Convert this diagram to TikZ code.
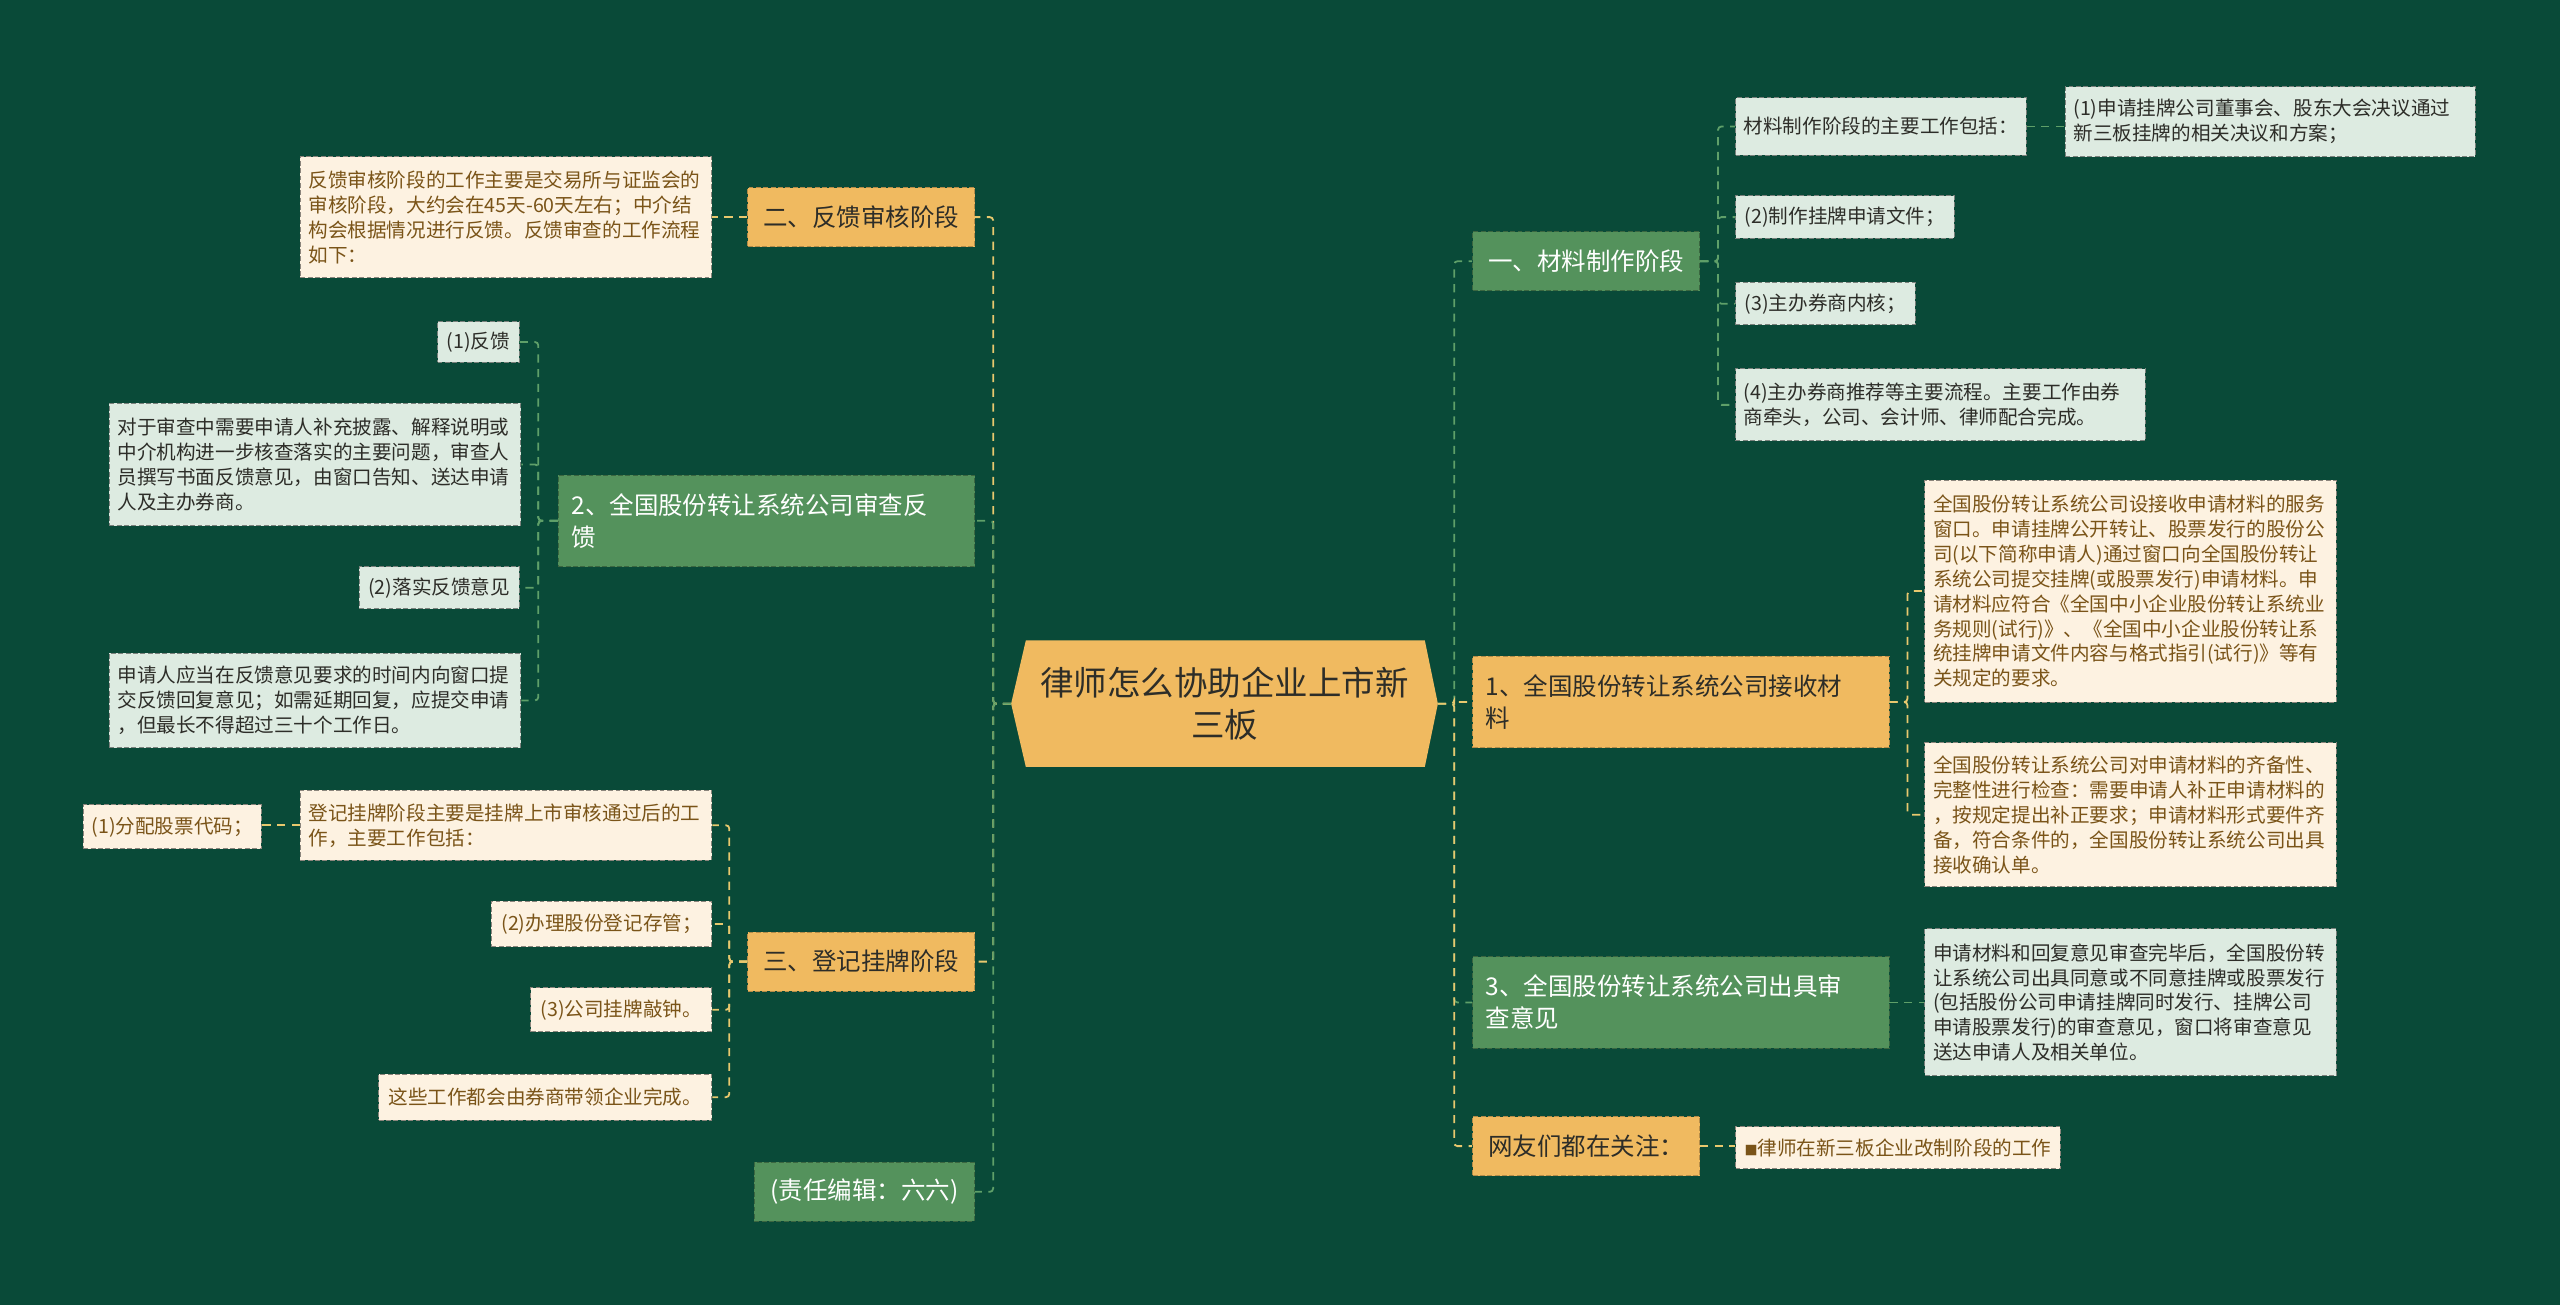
\documentclass[tikz,border=0pt]{standalone}
\usepackage{fontspec}
\setmainfont{Noto Sans CJK SC}
\usetikzlibrary{backgrounds}
\definecolor{bgc}{RGB}{9,74,56}
\definecolor{orf}{RGB}{240,186,96}
\definecolor{grf}{RGB}{84,146,92}
\definecolor{crf}{RGB}{253,242,225}
\definecolor{lgf}{RGB}{221,235,225}
\definecolor{brt}{RGB}{122,84,24}
\definecolor{dkt}{RGB}{45,45,40}
\definecolor{ylc}{RGB}{232,200,110}
\definecolor{gnc}{RGB}{95,160,105}
\tikzset{
  box/.style={rectangle, inner xsep=5pt, inner ysep=3pt, align=left, dash pattern=on 3pt off 1.5pt, line width=0.6pt},
  sz/.style 2 args={minimum width=#1pt, minimum height=#2pt},
  tw/.style={text width=#1pt},
  mainor/.style={box, fill=orf, draw=orf!75!black, text=dkt, font=\fontsize{15}{19.5}\selectfont},
  maingr/.style={box, fill=grf, draw=grf!70!black, text=white, font=\fontsize{15}{19.5}\selectfont},
  leafcr/.style={box, fill=crf, draw=crf!55!black, text=brt, font=\fontsize{12}{15.3}\selectfont},
  leaflg/.style={box, fill=lgf, draw=lgf!55!black, text=dkt, font=\fontsize{12}{15.3}\selectfont},
  yl/.style={draw=ylc, line width=1.1pt, dash pattern=on 5pt off 4pt, rounded corners=2pt},
  gl/.style={draw=gnc, line width=1.1pt, dash pattern=on 5pt off 4pt, rounded corners=2pt},
}
\begin{document}
\begin{tikzpicture}[x=1pt,y=-1pt]
\useasboundingbox (0,0) rectangle (1568,799);
% central
\node[text=dkt, font=\fontsize{20.5}{26}\selectfont, align=center, minimum width=261pt, minimum height=77pt, inner sep=0pt] (root) at (750,431) {律师怎么协助企业上市新\\三板};
% left main
\node[mainor, sz={139}{36}] (b2) at (527.5,133) {二、反馈审核阶段};
\node[maingr, sz={255}{56}, tw={239}] (bB) at (469.5,319) {2、全国股份转让系统公司审查反\\馈};
\node[mainor, sz={139}{36}] (b3) at (527.5,589) {三、登记挂牌阶段};
\node[maingr, sz={135}{36}] (bE) at (529.5,730) {(责任编辑：六六)};
% left leaves
\node[leafcr, sz={252}{74}, tw={242}] (b2c) at (310,133) {反馈审核阶段的工作主要是交易所与证监会的\\审核阶段，大约会在45天-60天左右；中介结\\构会根据情况进行反馈。反馈审查的工作流程\\如下：};
\node[leaflg, sz={50}{25}] (c1) at (293,209.5) {(1)反馈};
\node[leaflg, sz={252}{75}, tw={242}] (c2) at (193,284.5) {对于审查中需要申请人补充披露、解释说明或\\中介机构进一步核查落实的主要问题，审查人\\员撰写书面反馈意见，由窗口告知、送达申请\\人及主办券商。};
\node[leaflg, sz={98}{26}] (c3) at (269,360) {(2)落实反馈意见};
\node[leaflg, sz={252}{58}, tw={242}] (c4) at (193,429) {申请人应当在反馈意见要求的时间内向窗口提\\交反馈回复意见；如需延期回复，应提交申请\\，但最长不得超过三十个工作日。};
\node[leafcr, sz={252}{43}, tw={242}] (d1) at (310,505.5) {登记挂牌阶段主要是挂牌上市审核通过后的工\\作，主要工作包括：};
\node[leafcr, sz={109}{27}] (d1a) at (105.5,506.5) {(1)分配股票代码；};
\node[leafcr, sz={135}{28}] (d2) at (368.5,566) {(2)办理股份登记存管；};
\node[leafcr, sz={111}{27}] (d3) at (380.5,618.5) {(3)公司挂牌敲钟。};
\node[leafcr, sz={204}{28}] (d4) at (334,672) {这些工作都会由券商带领企业完成。};
% right main
\node[maingr, sz={139}{36}] (r1) at (971.5,160) {一、材料制作阶段};
\node[mainor, sz={255}{56}, tw={239}] (r2) at (1029.5,430) {1、全国股份转让系统公司接收材\\料};
\node[maingr, sz={255}{56}, tw={239}] (r3) at (1029.5,614) {3、全国股份转让系统公司出具审\\查意见};
\node[mainor, sz={139}{36}] (r4) at (971.5,702) {网友们都在关注：};
% right leaves
\node[leaflg, sz={178}{35}] (e1) at (1152,77.5) {材料制作阶段的主要工作包括：};
\node[leaflg, sz={251}{43}, tw={241}] (e1a) at (1390.5,74.5) {(1)申请挂牌公司董事会、股东大会决议通过\\新三板挂牌的相关决议和方案；};
\node[leaflg, sz={134}{26}] (e2) at (1130,133) {(2)制作挂牌申请文件；};
\node[leaflg, sz={110}{26}] (e3) at (1118,186) {(3)主办券商内核；};
\node[leaflg, sz={251}{44}, tw={241}] (e4) at (1188.5,248) {(4)主办券商推荐等主要流程。主要工作由券\\商牵头，公司、会计师、律师配合完成。};
\node[leafcr, sz={252}{136}, tw={242}] (f1) at (1305,362) {全国股份转让系统公司设接收申请材料的服务\\窗口。申请挂牌公开转让、股票发行的股份公\\司(以下简称申请人)通过窗口向全国股份转让\\系统公司提交挂牌(或股票发行)申请材料。申\\请材料应符合《全国中小企业股份转让系统业\\务规则(试行)》、《全国中小企业股份转让系\\统挂牌申请文件内容与格式指引(试行)》等有\\关规定的要求。};
\node[leafcr, sz={252}{88}, tw={242}] (f2) at (1305,499) {全国股份转让系统公司对申请材料的齐备性、\\完整性进行检查：需要申请人补正申请材料的\\，按规定提出补正要求；申请材料形式要件齐\\备，符合条件的，全国股份转让系统公司出具\\接收确认单。};
\node[leaflg, sz={252}{90}, tw={242}] (g1) at (1305,614) {申请材料和回复意见审查完毕后，全国股份转\\让系统公司出具同意或不同意挂牌或股票发行\\(包括股份公司申请挂牌同时发行、挂牌公司\\申请股票发行)的审查意见，窗口将审查意见\\送达申请人及相关单位。};
\node[leafcr, sz={199}{26}] (h1) at (1162.5,703) {{\fontsize{8}{8}\selectfont ■}律师在新三板企业改制阶段的工作};
% connectors: root to main
\draw[yl] (root.west) -- ++(-11,0) |- (b2.east);
\draw[gl] (root.west) -- ++(-11,0) |- (bB.east);
\draw[yl] (root.west) -- ++(-11,0) |- (b3.east);
\draw[gl] (root.west) -- ++(-11,0) |- (bE.east);
\draw[gl] (root.east) -- ++(10,0) |- (r1.west);
\draw[yl] (root.east) -- ++(10,0) |- (r2.west);
\draw[gl] (root.east) -- ++(10,0) |- (r3.west);
\draw[yl] (root.east) -- ++(10,0) |- (r4.west);
% sub connectors
\draw[yl] (b2.west) -- (b2.west -| b2c.east);
\draw[gl] (bB.west) -- ++(-12,0) |- (c1.east);
\draw[gl] (bB.west) -- ++(-12,0) |- (c2.east);
\draw[gl] (bB.west) -- ++(-12,0) |- (c3.east);
\draw[gl] (bB.west) -- ++(-12,0) |- (c4.east);
\draw[yl] (b3.west) -- ++(-11,0) |- (d1.east);
\draw[yl] (b3.west) -- ++(-11,0) |- (d2.east);
\draw[yl] (b3.west) -- ++(-11,0) |- (d3.east);
\draw[yl] (b3.west) -- ++(-11,0) |- (d4.east);
\draw[yl] (d1.west) -- (d1.west -| d1a.east);
\draw[gl] (r1.east) -- ++(11,0) |- (e1.west);
\draw[gl] (r1.east) -- ++(11,0) |- (e2.west);
\draw[gl] (r1.east) -- ++(11,0) |- (e3.west);
\draw[gl] (r1.east) -- ++(11,0) |- (e4.west);
\draw[gl] (e1.east) -- (e1.east -| e1a.west);
\draw[yl] (r2.east) -- ++(11,0) |- (f1.west);
\draw[yl] (r2.east) -- ++(11,0) |- (f2.west);
\draw[gl] (r3.east) -- (r3.east -| g1.west);
\draw[yl] (r4.east) -- (r4.east -| h1.west);
% background and root shape
\begin{pgfonlayer}{background}
\fill[bgc] (0,0) rectangle (1568,799);
\fill[orf] (root.west) -- ([xshift=9pt]root.north west) -- ([xshift=-8pt]root.north east) -- (root.east) -- ([xshift=-8pt]root.south east) -- ([xshift=9pt]root.south west) -- cycle;
\end{pgfonlayer}
\end{tikzpicture}
\end{document}
